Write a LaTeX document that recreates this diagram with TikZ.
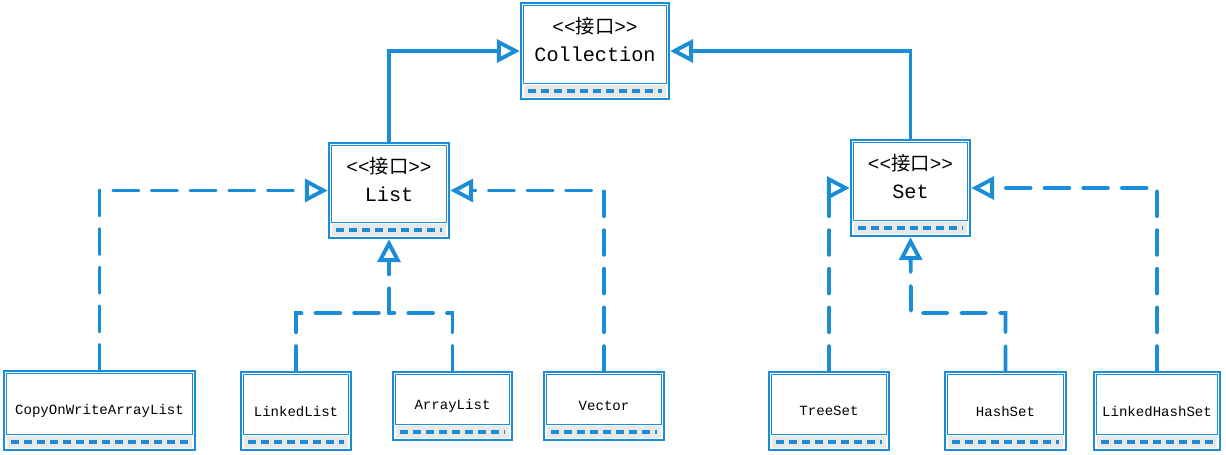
\documentclass[tikz,border=0pt]{standalone}
\usepackage{fontspec}
\setmonofont{Liberation Mono}
\newfontfamily\cjk{Noto Sans CJK SC}
\usepackage{xcolor}
\usepackage{tikz}
\usetikzlibrary{arrows.meta, calc}

\definecolor{skblue}{HTML}{1A8CD8}
\definecolor{footgray}{HTML}{E8E8E8}

\newcommand{\iface}[1]{{\cjk\fontsize{11pt}{12pt}\selectfont\texttt{<<}接口\texttt{>>}}\\[3pt]#1\\\mbox{}}

\begin{document}
\begin{tikzpicture}[
  x=0.02cm, y=-0.02cm,
  cls/.style={rectangle, draw=skblue, line width=1.4pt, fill=white, inner sep=0pt, align=center, font=\ttfamily\fontsize{11.5pt}{13pt}\selectfont},
  leaf/.style={cls, font=\ttfamily\fontsize{8pt}{10pt}\selectfont},
  gen/.style={-{Triangle[fill=white, length=13pt, width=13pt]}, draw=skblue, line width=2.2pt},
  real/.style={gen, dash pattern=on 14pt off 8pt, line cap=round},
  realline/.style={draw=skblue, line width=2.2pt, dash pattern=on 14pt off 8pt, line cap=round}
]
\useasboundingbox (0,0) rectangle (1226,455);

% interfaces
\node[cls, minimum width=2.96cm, minimum height=1.92cm] (coll) at (595,51) {\iface{Collection}};
\node[cls, minimum width=2.40cm, minimum height=1.90cm] (list) at (389,190.5) {\iface{List}};
\node[cls, minimum width=2.38cm, minimum height=1.92cm] (set) at (910.5,188) {\iface{Set}};

% implementations
\node[leaf, minimum width=3.82cm, minimum height=1.58cm] (cow) at (99.5,410.5) {CopyOnWriteArrayList};
\node[leaf, minimum width=2.20cm, minimum height=1.56cm] (linked) at (296,411) {LinkedList};
\node[leaf, minimum width=2.38cm, minimum height=1.36cm] (array) at (452.5,406) {ArrayList};
\node[leaf, minimum width=2.40cm, minimum height=1.36cm] (vector) at (604,406) {Vector};
\node[leaf, minimum width=2.40cm, minimum height=1.56cm] (tree) at (829,411) {TreeSet};
\node[leaf, minimum width=2.42cm, minimum height=1.56cm] (hash) at (1005.5,411) {HashSet};
\node[leaf, minimum width=2.52cm, minimum height=1.56cm] (lhs) at (1157,411) {LinkedHashSet};

% inner frame and striped footer of every box
\foreach \n in {coll,list,set,cow,linked,array,vector,tree,hash,lhs} {
  \draw[skblue, line width=0.7pt] ($(\n.south west)+(4,-17)$) rectangle ($(\n.north east)+(-4,4)$);
  \fill[footgray] ($(\n.south west)+(4,-3)$) rectangle ($(\n.south east)+(-4,-15)$);
  \draw[skblue, line width=2.2pt, dash pattern=on 4.6pt off 2.8pt] ($(\n.south west)+(8,-9)$) -- ($(\n.south east)+(-8,-9)$);
}

% generalisation
\draw[gen] (list.north) |- (coll.west);
\draw[gen] (set.north) |- (coll.east);

% realisation
\coordinate (lhub) at (389,313);
\coordinate (shub) at (911,313);
\draw[real] (cow.north) |- (list.west);
\draw[realline] (linked.north) |- (lhub);
\draw[realline] (array.north) |- (lhub);
\draw[real] (lhub) -- (list.south);
\draw[real] (vector.north) |- (list.east);
\draw[real] (tree.north) |- (set.west);
\draw[real] (hash.north) |- (shub) -- (set.south);
\draw[real] (lhs.north) |- (set.east);

\end{tikzpicture}
\end{document}
